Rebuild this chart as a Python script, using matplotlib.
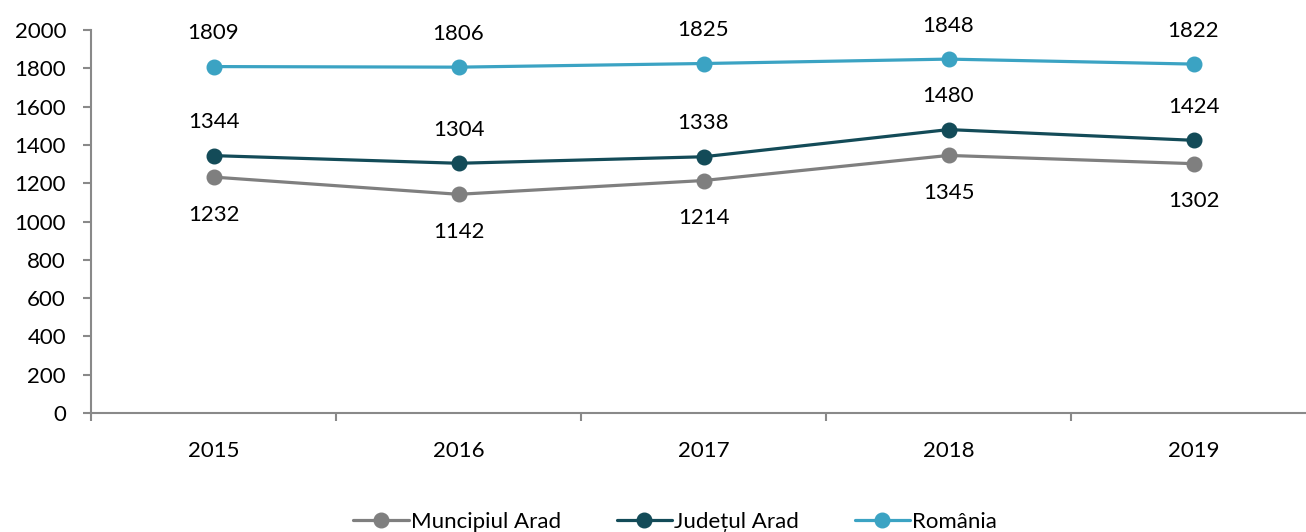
import matplotlib
matplotlib.use("Agg")
import matplotlib.pyplot as plt

plt.rcParams['font.family'] = ['Lato', 'DejaVu Sans']

years = ['2015', '2016', '2017', '2018', '2019']
municipiul = [1232, 1142, 1214, 1345, 1302]
judetul = [1344, 1304, 1338, 1480, 1424]
romania = [1809, 1806, 1825, 1848, 1822]

series = [
    ('Muncipiul Arad', municipiul, '#7f7f7f', -27),
    ('Județul Arad', judetul, '#134b58', 24),
    ('România', romania, '#3ba3c3', 24),
]

W, H = 1306, 532
FS = 16
fig = plt.figure(figsize=(W / 100, H / 100), dpi=100)
ax = fig.add_axes([91 / W, (H - 413) / H, 1225 / W, 383 / H])

x = list(range(len(years)))
for name, vals, col, off in series:
    ax.plot(x, vals, color=col, lw=2.3, marker='o', ms=10.5, label=name,
            solid_capstyle='round', zorder=3)
    for xi, v in zip(x, vals):
        ax.annotate(str(v), (xi, v), xytext=(0, off), textcoords='offset points',
                    ha='center', va='center', fontsize=FS, color='black')

ax.set_xlim(-0.5, 4.5)
ax.set_ylim(0, 2000)
ax.set_yticks(range(0, 2001, 200))
# category boundaries get the tick marks, years sit between them
ax.set_xticks([i + 0.5 for i in range(-1, 5)], minor=False)
ax.set_xticklabels([])
ax.set_xticks(x, minor=True)
ax.set_xticklabels(years, minor=True)
ax.tick_params(axis='x', which='major', length=6, width=1.5, color='#898989')
ax.tick_params(axis='x', which='minor', length=0, pad=20, labelsize=FS)
ax.tick_params(axis='y', length=6, width=1.5, color='#898989', pad=12, labelsize=FS)

for s in ['top', 'right']:
    ax.spines[s].set_visible(False)
for s in ['left', 'bottom']:
    ax.spines[s].set_color('#898989')
    ax.spines[s].set_linewidth(1.5)

fig.legend(loc='lower center', bbox_to_anchor=(0.517, -0.038), ncol=3, frameon=False,
           fontsize=FS, handlelength=2.5, handletextpad=0.1, columnspacing=2.5)

fig.savefig('out.png', dpi=100)
